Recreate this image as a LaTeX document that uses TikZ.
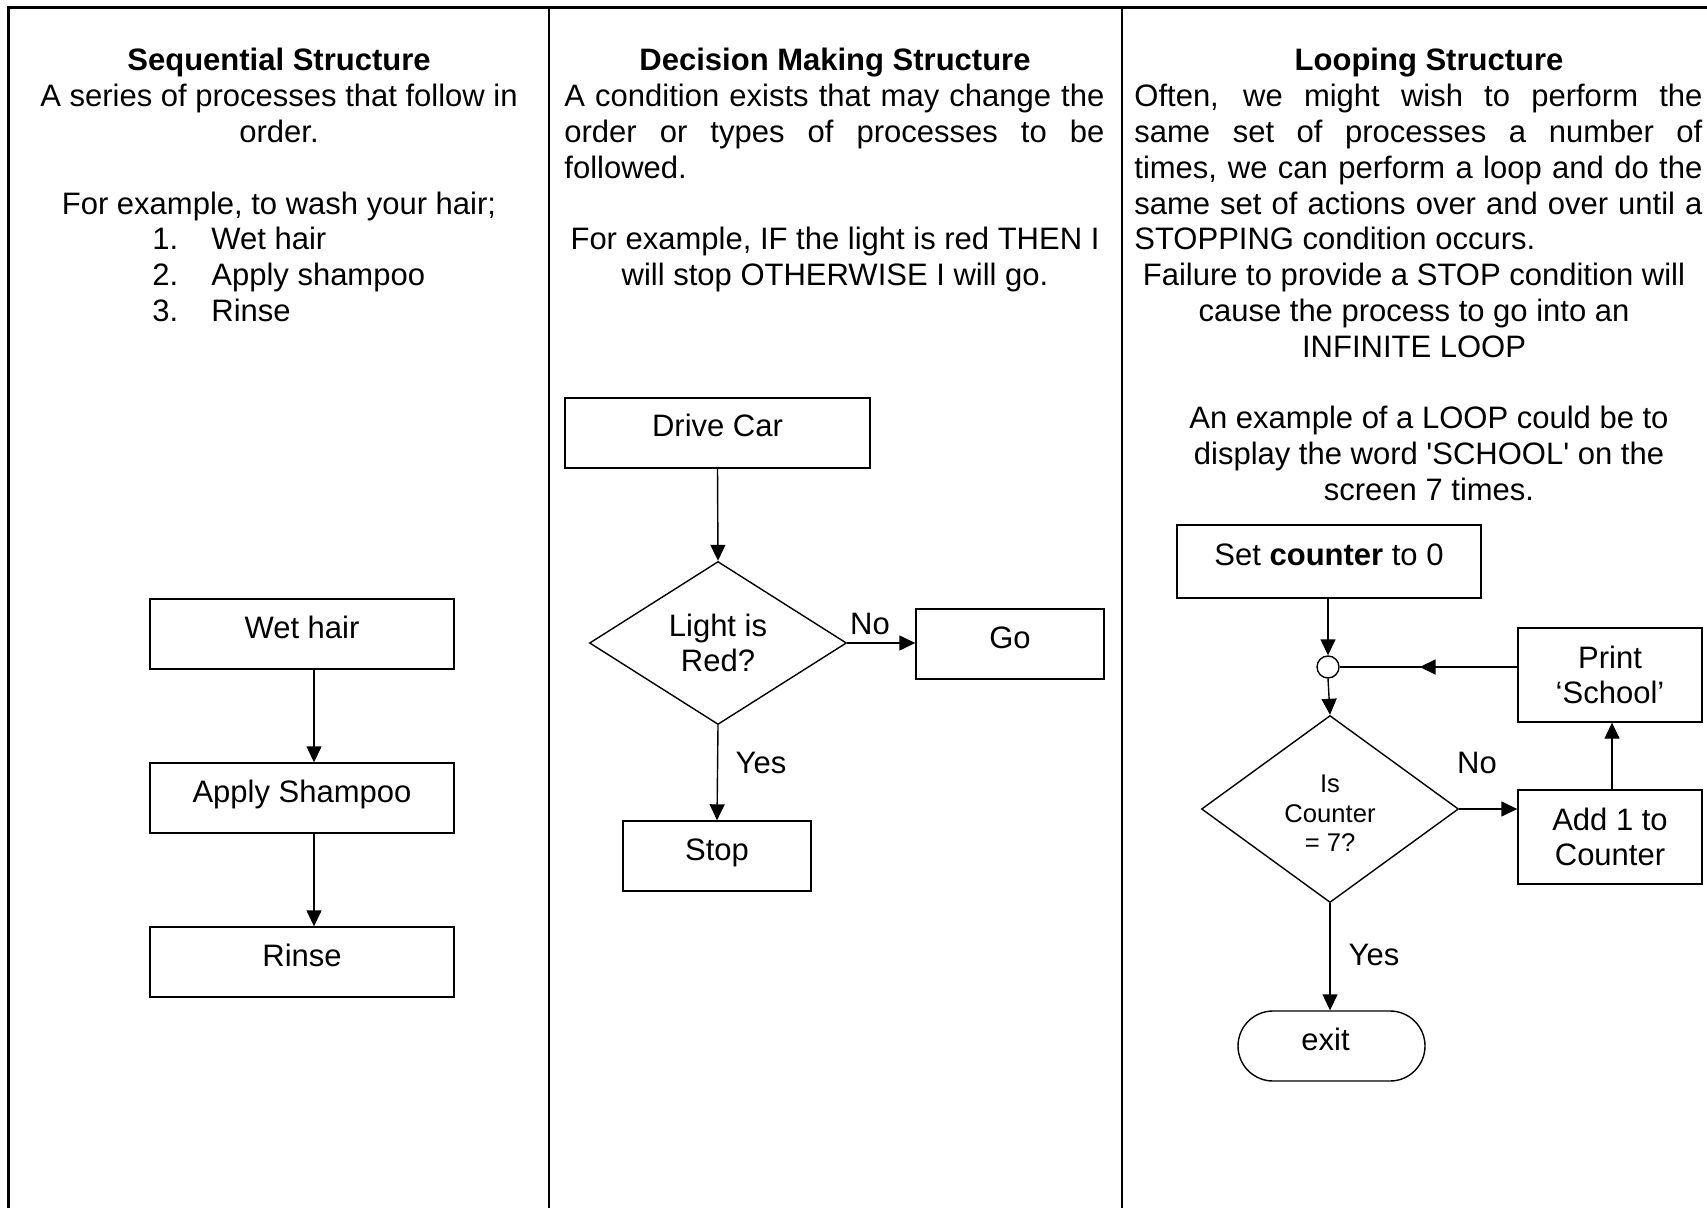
\documentclass[tikz,border=0pt]{standalone}
\usepackage{fontspec}
\setmainfont{Liberation Sans}
\newfontfamily\arial{Liberation Sans}
\usetikzlibrary{shapes.geometric,arrows.meta,decorations.markings}
\newcommand\bodyf{\arial\fontsize{15.5}{17.9}\selectfont}
\newcommand\smallf{\arial\fontsize{12.8}{14.8}\selectfont}
\begin{document}
\begin{tikzpicture}[x=0.5pt,y=-0.5pt,
  txt/.style={inner sep=0pt, font=\bodyf, anchor=base},
  ttl/.style={inner sep=0pt, font=\bodyf\bfseries, anchor=base},
  jl/.style={inner sep=0pt, font=\bodyf, anchor=base west},
  box/.style={draw, line width=0.7pt, inner sep=0pt, font=\bodyf, align=center},
  sbox/.style={box, text height=11pt, text depth=7pt},
  dia/.style={draw, diamond, line width=0.7pt, inner sep=0pt, align=center},
  arr/.style={line width=0.7pt, -{Triangle[length=8pt,width=7.5pt]}},
  plain/.style={line width=0.7pt},
  grid/.style={line width=1.3pt}]
\useasboundingbox[fill=white] (0,0) rectangle (1707,1208);
% table grid
\draw[grid] (8.4,1212) -- (8.4,7.7) -- (1712,7.7);
\draw[grid] (549,7.7) -- (549,1212);
\draw[grid] (1122,7.7) -- (1122,1212);

% ---------- column 1 ----------
\node[ttl] (t1) at (279,71) {Sequential Structure};
\node[txt] (a1) at (279,106.8) {A series of processes that follow in};
\node[txt] (a2) at (279,142.6) {order.};
\node[txt] (a3) at (279,214.2) {For example, to wash your hair;};
\node[jl] (n1) at (152,250) {1.};
\node[jl] (l1) at (211,250) {Wet hair};
\node[jl] (n2) at (152,285.8) {2.};
\node[jl] (l2) at (211,285.8) {Apply shampoo};
\node[jl] (n3) at (152,321.6) {3.};
\node[jl] (l3) at (211,321.6) {Rinse};

\node[sbox, minimum width=152pt, minimum height=35pt] (wet) at (302,634) {Wet hair};
\node[sbox, minimum width=152pt, minimum height=35pt] (apply) at (302,798) {Apply Shampoo};
\node[sbox, minimum width=152pt, minimum height=35pt] (rinse) at (302,962) {Rinse};
\draw[arr] ([xshift=6pt]wet.south) -- ([xshift=6pt]apply.north);
\draw[arr] ([xshift=6pt]apply.south) -- ([xshift=6pt]rinse.north);

% ---------- column 2 ----------
\node[ttl] (t2) at (835,71) {Decision Making Structure};
\node[jl] (b1) at (564,106.8) {\makebox[270pt][s]{A condition exists that may change the}};
\node[jl] (b2) at (564,142.6) {\makebox[270pt][s]{order or types of processes to be}};
\node[jl] (b3) at (564,178.4) {followed.};
\node[txt] (b4) at (835,250) {For example, IF the light is red THEN I};
\node[txt] (b5) at (835,285.8) {will stop OTHERWISE I will go.};

\node[sbox, minimum width=152.5pt, minimum height=35pt] (drive) at (717.5,433) {Drive Car};
\node[dia, minimum width=128.5pt, minimum height=81.5pt, font=\bodyf] (light) at (718,643) {Light is\\Red?};
\node[sbox, minimum width=94pt, minimum height=35pt] (go) at (1010,644) {Go};
\node[sbox, minimum width=94pt, minimum height=35pt] (stop) at (717,856) {Stop};
\draw[arr] (drive.south) -- (light.north);
\draw[arr] (light.east) -- (light.east -| go.west);
\draw[arr] (light.south) -- (stop.north);
\node[txt] (no1) at (870,634) {No};
\node[txt] (yes1) at (761,773) {Yes};

% ---------- column 3 ----------
\node[ttl] (t3) at (1429,71) {Looping Structure};
\node[jl] (c1) at (1134,106.8) {\makebox[284pt][s]{Often, we might wish to perform the}};
\node[jl] (c2) at (1134,142.6) {\makebox[284pt][s]{same set of processes a number of}};
\node[jl] (c3) at (1134,178.4) {\makebox[284pt][s]{times, we can perform a loop and do the}};
\node[jl] (c4) at (1134,214.2) {\makebox[284pt][s]{same set of actions over and over until a}};
\node[jl] (c5) at (1134,250) {STOPPING condition occurs.};
\node[txt] (c6) at (1414,285.8) {Failure to provide a STOP condition will};
\node[txt] (c7) at (1414,321.6) {cause the process to go into an};
\node[txt] (c8) at (1414,357.4) {INFINITE LOOP};
\node[txt] (c9) at (1429,429) {An example of a LOOP could be to};
\node[txt] (c10) at (1429,464.8) {display the word 'SCHOOL' on the};
\node[txt] (c11) at (1429,500.6) {screen 7 times.};

\node[sbox, minimum width=152pt, minimum height=36.5pt] (setc) at (1329,561.5) {Set \textbf{counter} to 0};
\node[draw, circle, line width=0.7pt, minimum size=11pt, inner sep=0pt] (jn) at (1328,667) {};
\node[dia, minimum width=128.5pt, minimum height=93.5pt, font=\smallf] (isc) at (1330,809) {\rule{0pt}{13pt}Is\\Counter\\= 7?};
\node[box, minimum width=92pt, minimum height=47pt] (add) at (1610,837) {Add 1 to\\Counter};
\node[box, minimum width=92pt, minimum height=47pt] (print) at (1610,675) {Print\\‘School’};
\node[draw, line width=0.7pt, rounded corners=17.5pt, minimum width=93.5pt, minimum height=35pt,
      inner sep=0pt, font=\bodyf, text height=11pt, text depth=7pt] (exit) at (1331.5,1046) {exit\hspace*{6pt}};

\draw[arr] (setc.south -| jn.north) -- (jn.north);
\draw[arr] (jn.south) -- (isc.north);
\draw[arr] (isc.east) -- (isc.east -| add.west);
\draw[arr] ([xshift=1pt]add.north) -- ([xshift=1pt]print.south);
\draw[plain, postaction={decorate}, decoration={markings,
      mark=at position 0.55 with {\arrow{Triangle[length=8pt,width=7.5pt]}}}]
      (jn.east -| print.west) -- (jn.east);
\draw[arr] (isc.south) -- (exit.north -| isc.south);
\node[txt] (no2) at (1477,773) {No};
\node[txt] (yes2) at (1374,965) {Yes};
\end{tikzpicture}
\end{document}
